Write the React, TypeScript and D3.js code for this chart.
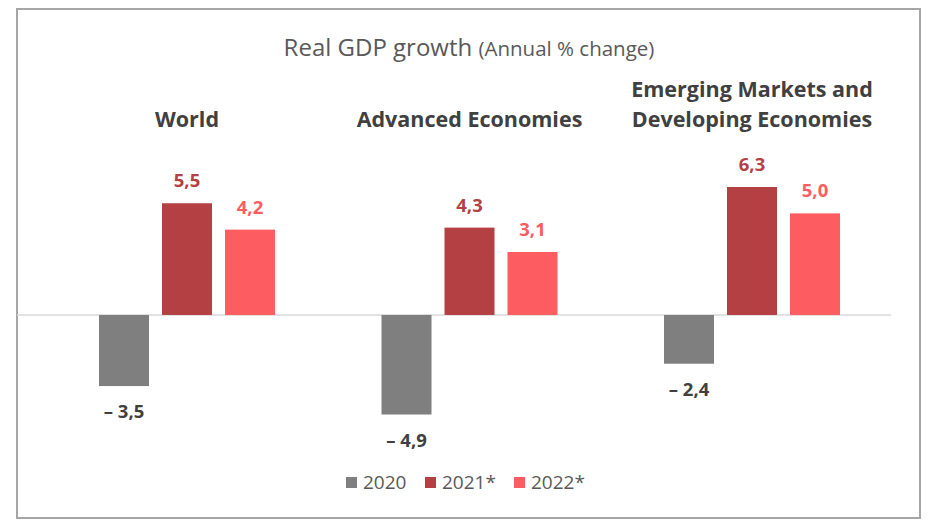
import React from "react";
import * as d3 from "d3";

const groups = ["World", "Advanced Economies", "Emerging Markets and Developing Economies"];
const groupTitleLines = [["World"], ["Advanced Economies"], ["Emerging Markets and", "Developing Economies"]];
const seriesNames = ["2020", "2021*", "2022*"];
const values2020 = [-3.5, -4.9, -2.4];
const values2021 = [5.5, 4.3, 6.3];
const values2022 = [4.2, 3.1, 5.0];
const seriesValues = [values2020, values2021, values2022];
const colors = ["#7f7f7f", "#b44044", "#fd5c60"];
const labelColors = ["#404040", "#b44044", "#fd5c60"];

const W = 942;
const H = 532;
const FONT = "'Open Sans', sans-serif";

export default function App() {
  const x0 = d3.scaleBand<string>().domain(groups).range([99, 99 + 3 * 282.5]).paddingInner(0).paddingOuter(0);
  const x1 = d3.scaleBand<string>().domain(seriesNames).range([0, 176]).paddingInner(13 / 63).paddingOuter(0);
  const y = d3.scaleLinear().domain([-4.9, 6.3]).range([414.5, 187]);
  const fmt = (v: number) => (v < 0 ? "\u2013 " : "") + d3.format(".1f")(Math.abs(v)).replace(".", ",");

  const legendX = [346, 425, 514];

  return (
    <svg width={W} height={H} style={{ position: "absolute", left: 0, top: 0 }} fontFamily={FONT}>
      <rect x={0} y={0} width={W} height={H} fill="#fff" />
      <rect x={17} y={9} width={903} height={509} fill="#fff" stroke="#a6a6a6" strokeWidth={2} />
      <text x={469} y={56} textAnchor="middle" fill="#595959" fontSize={24}>
        Real GDP growth <tspan fontSize={20.5}>(Annual % change)</tspan>
      </text>
      {groups.map((g, gi) => {
        const lines = groupTitleLines[gi];
        const cx = (x0(g) as number) + 88;
        return (
          <text key={g} x={cx} textAnchor="middle" fill="#404040" fontSize={21.5} fontWeight="bold">
            {lines.map((l, li) => (
              <tspan key={li} x={cx} y={127 - (lines.length - 1 - li) * 30}>{l}</tspan>
            ))}
          </text>
        );
      })}
      <line x1={17} x2={891} y1={y(0)} y2={y(0)} stroke="#d9d9d9" strokeWidth={1.5} />
      {groups.map((g, gi) => (
        <g key={g} transform={`translate(${x0(g)},0)`}>
          {seriesNames.map((s, si) => {
            const v = seriesValues[si][gi];
            const bx = x1(s) as number;
            const top = Math.min(y(v), y(0));
            const h = Math.abs(y(v) - y(0));
            const ly = v >= 0 ? y(v) - 16 : y(v) + 32;
            return (
              <g key={s}>
                <rect x={bx} y={top} width={x1.bandwidth()} height={h} fill={colors[si]} />
                <text x={bx + x1.bandwidth() / 2} y={ly} textAnchor="middle" fill={labelColors[si]} fontSize={18.5} fontWeight="bold">
                  {fmt(v)}
                </text>
              </g>
            );
          })}
        </g>
      ))}
      {seriesNames.map((s, si) => (
        <g key={s} transform={`translate(${legendX[si]},0)`}>
          <rect x={0} y={477} width={11} height={11} fill={colors[si]} />
          <text x={17} y={489} fill="#595959" fontSize={19}>{s}</text>
        </g>
      ))}
    </svg>
  );
}
